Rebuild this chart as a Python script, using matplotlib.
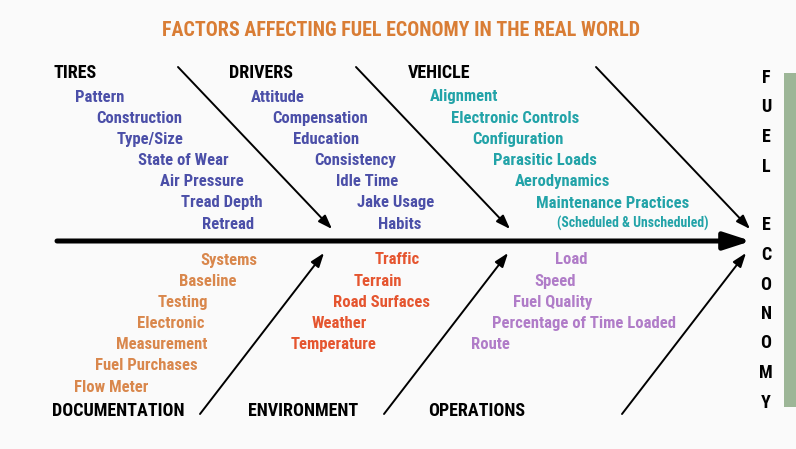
import matplotlib.pyplot as plt
from matplotlib.patches import FancyArrowPatch, Rectangle

title = "FACTORS AFFECTING FUEL ECONOMY IN THE REAL WORLD"
effect = "FUEL ECONOMY"

# causes above the spine
top_heads = ["TIRES", "DRIVERS", "VEHICLE"]
tires = ["Pattern", "Construction", "Type/Size", "State of Wear",
         "Air Pressure", "Tread Depth", "Retread"]
drivers = ["Attitude", "Compensation", "Education", "Consistency",
           "Idle Time", "Jake Usage", "Habits"]
vehicle = ["Alignment", "Electronic Controls", "Configuration",
           "Parasitic Loads", "Aerodynamics", "Maintenance Practices"]
vehicle_note = "(Scheduled & Unscheduled)"

# causes below the spine
bottom_heads = ["DOCUMENTATION", "ENVIRONMENT", "OPERATIONS"]
documentation = ["Systems", "Baseline", "Testing", "Electronic",
                 "Measurement", "Fuel Purchases", "Flow Meter"]
environment = ["Traffic", "Terrain", "Road Surfaces", "Weather", "Temperature"]
operations = ["Load", "Speed", "Fuel Quality", "Percentage of Time Loaded", "Route"]

top_items = [tires, drivers, vehicle]
bottom_items = [documentation, environment, operations]
top_colors = ["#4b4fa8", "#4b4fa8", "#22a3a8"]
bottom_colors = ["#d9874c", "#e5552f", "#b07cc8"]

FONT = ["Roboto Condensed", "Barlow Condensed", "DejaVu Sans"]

fig = plt.figure(figsize=(7.96, 4.49), dpi=100, facecolor="#fafafa")
ax = fig.add_axes([0, 0, 1, 1])
ax.set_xlim(0, 796)
ax.set_ylim(449, 0)
ax.axis("off")

ax.text(401, 30, title, ha="center", va="center", color="#d97d35",
        fontsize=14.4, fontweight="bold", family=FONT)

# spine
spine_y = 241
ax.add_patch(FancyArrowPatch((57, spine_y), (751, spine_y),
                             arrowstyle="-|>,head_length=0.8,head_width=0.26",
                             mutation_scale=20, lw=3.6, color="black",
                             shrinkA=0, shrinkB=0))

branch_style = "-|>,head_length=0.42,head_width=0.15"
step = 21.2
top_x = [53, 229, 408]
top_tip = [332, 510, 750]
for i, head in enumerate(top_heads):
    x0 = top_x[i]
    ax.text(x0, 73, head, ha="left", va="center", fontsize=13,
            fontweight="bold", family=FONT)
    for j, item in enumerate(top_items[i]):
        ax.text(x0 + 21.5 + j * 21.3, 97 + j * step, item, ha="left",
                va="center", color=top_colors[i], fontsize=12,
                fontweight="bold", family=FONT)
    tx = top_tip[i]
    ax.add_patch(FancyArrowPatch((tx - 154, 67), (tx, 229),
                                 arrowstyle=branch_style,
                                 mutation_scale=20, lw=1.4, color="black",
                                 shrinkA=0, shrinkB=0))
n = len(vehicle)
ax.text(top_x[2] + 21.5 + n * 21.3, 97 + n * step - 1, vehicle_note,
        ha="left", va="center", color=top_colors[2], fontsize=9.9,
        fontweight="bold", family=FONT)

bottom_x = [52, 248, 428]
bottom_start = [200, 375, 555]
bottom_tip = [324, 508, 746]
for i, head in enumerate(bottom_heads):
    ax.text(bottom_x[i], 411, head, ha="left", va="center", fontsize=13,
            fontweight="bold", family=FONT)
    for j, item in enumerate(bottom_items[i]):
        ax.text(bottom_start[i] - j * 21, 260 + j * step, item, ha="left",
                va="center", color=bottom_colors[i], fontsize=12,
                fontweight="bold", family=FONT)
    tx = bottom_tip[i]
    ax.add_patch(FancyArrowPatch((tx - 124, 414), (tx, 253),
                                 arrowstyle=branch_style,
                                 mutation_scale=20, lw=1.4, color="black",
                                 shrinkA=0, shrinkB=0))

# effect, written vertically
for k, ch in enumerate(effect):
    ax.text(766, 78 + k * 29.5, ch, ha="center", va="center",
            fontsize=13, fontweight="bold", family=FONT)

ax.add_patch(Rectangle((784, 73), 12, 334, color="#9db697", lw=0))

fig.savefig("out.png", dpi=100, facecolor=fig.get_facecolor())
